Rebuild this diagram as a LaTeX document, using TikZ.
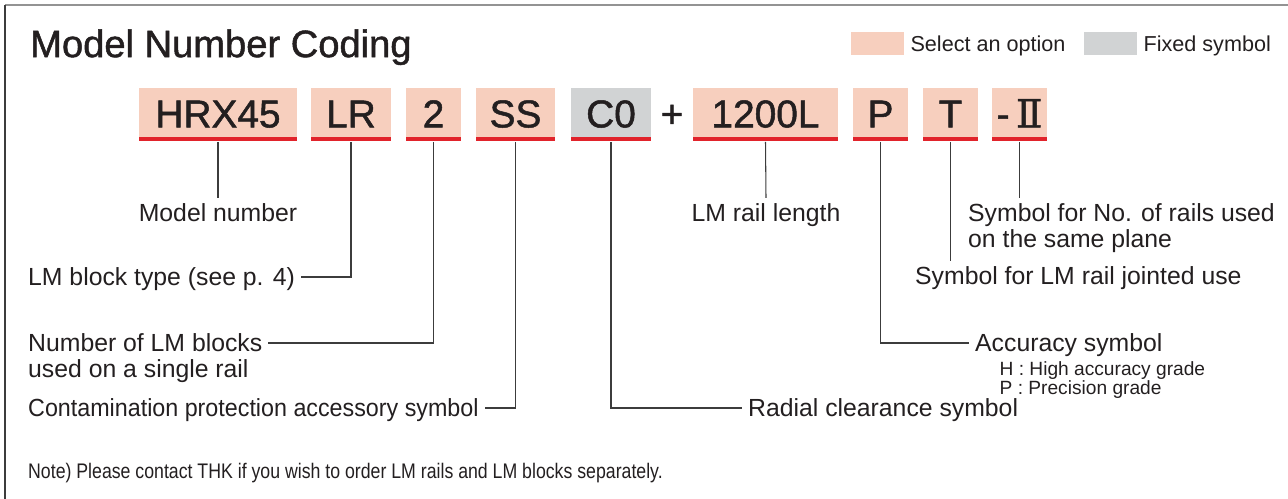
\documentclass[tikz,border=0pt]{standalone}
\usepackage{fontspec}
\setmainfont{Liberation Sans}
\newfontfamily\codefont[FakeBold=1.3]{Liberation Sans}
\newfontfamily\numfont[FakeBold=1.3]{DejaVu Serif}
\newfontfamily\notefont[FakeStretch=0.84]{Liberation Sans}
\newfontfamily\tightfont[FakeStretch=0.94]{Liberation Sans}
\usetikzlibrary{positioning}
\definecolor{thkpink}{HTML}{F7CFBE}
\definecolor{thkgrey}{HTML}{D1D3D4}
\definecolor{thkred}{HTML}{E1232B}
\definecolor{thkink}{HTML}{231F20}
\definecolor{thkline}{HTML}{3C3C3C}

\begin{document}
\begin{tikzpicture}[
  x=0.02cm, y=-0.02cm,
  text=thkink,
  code/.style={fill=thkpink,minimum height=1.07cm,inner sep=0pt,
    text height=15.8pt,text depth=1.4pt,
    font=\codefont\fontsize{22.1pt}{26pt}\selectfont,
    path picture={\fill[thkred] (path picture bounding box.south west)
      rectangle ([yshift=0.084cm]path picture bounding box.south east);}},
  fixed/.style={code,fill=thkgrey},
  lbl/.style={font=\fontsize{14.1pt}{17pt}\selectfont,
    text height=10.1pt,text depth=0pt},
  small/.style={font=\fontsize{10.9pt}{13pt}\selectfont,
    text height=7.8pt,text depth=0pt,anchor=west},
  lead/.style={draw=thkline,line width=0.6pt},
  key/.style={minimum width=1.06cm,minimum height=0.46cm,inner sep=0pt},
  keytext/.style={font=\fontsize{12.3pt}{14pt}\selectfont,
    text height=8.8pt,text depth=0pt}
]
  \useasboundingbox (0,0) rectangle (1288,499);
  % frame
  \draw[draw=gray!85,line width=1.2pt] (5,5) -- (1288,5);
  \draw[draw=thkline,line width=0.9pt] (5,5) -- (5,499);

  % title and legend
  \node[anchor=west,font=\codefont\fontsize{21.7pt}{26pt}\selectfont,
    text height=15.5pt,text depth=0pt] (title) at (24,43.5)
    {Model Number Coding};
  \node[key,fill=thkpink] (optkey) at (877.5,43.5) {};
  \node[keytext,right=0pt of optkey] (opttext) {Select an option};
  \node[key,fill=thkgrey] (fixkey) at (1110.5,43.5) {};
  \node[keytext,right=0pt of fixkey] (fixtext) {Fixed symbol};

  % model number boxes
  \node[code,minimum width=3.16cm] (hrx) at (218,114.75) {HRX45};
  \node[code,minimum width=1.60cm] (lr) at (351,114.75) {LR};
  \node[code,minimum width=1.10cm] (nblk) at (433.5,114.75) {2};
  \node[code,minimum width=1.58cm] (seal) at (515.5,114.75) {SS};
  \node[fixed,minimum width=1.60cm] (clr) at (611,114.75) {C0};
  \node[font=\codefont\fontsize{22.1pt}{26pt}\selectfont,inner sep=0pt,
    text height=15.8pt,text depth=1.4pt] (plus) at (672,114.75) {+};
  \node[code,minimum width=2.90cm] (len) at (765.5,114.75) {1200L};
  \node[code,minimum width=1.10cm] (acc) at (880.5,114.75) {P};
  \node[code,minimum width=1.10cm] (joint) at (950.5,114.75) {T};
  \node[code,minimum width=1.10cm] (rails) at (1019.5,114.75)
    {-\,{\numfont Ⅱ}};

  % labels
  \node[lbl] (modelno) at (218,213) {Model number};
  \node[lbl] (lenlbl) at (766,213) {LM rail length};
  \node[lbl,anchor=west] (railsA) at (962,213) {Symbol for No. of rails used};
  \node[lbl,anchor=west] (railsB) at (962,239) {on the same plane};
  \node[lbl,anchor=west] (blktype) at (22,277) {LM block type (see p. 4)};
  \node[lbl,anchor=west] (jointlbl) at (909,276)
    {Symbol for LM rail jointed use};
  \node[lbl,anchor=west] (nblkA) at (22,343) {Number of LM blocks};
  \node[lbl,anchor=west] (nblkB) at (22,369) {used on a single rail};
  \node[lbl,anchor=west] (accsym) at (969,343) {Accuracy symbol};
  \node[small] (accH) at (993.5,369) {H : High accuracy grade};
  \node[small] (accP) at (993.5,388) {P : Precision grade};
  \node[lbl,anchor=west,font=\tightfont\fontsize{14.1pt}{17pt}\selectfont]
    (sealsym) at (22,408) {Contamination protection accessory symbol};
  \node[lbl,anchor=west] (clrsym) at (742,408) {Radial clearance symbol};
  \node[anchor=west,font=\notefont\fontsize{12pt}{14pt}\selectfont]
    (note) at (22,473)
    {Note) Please contact THK if you wish to order LM rails and LM blocks separately.};

  % leader lines
  \draw[lead] (hrx.south) -- (modelno.north);
  \draw[lead] (lr.south) |- (blktype.east);
  \draw[lead] (nblk.south) |- (nblkA.east);
  \draw[lead] (seal.south) |- (sealsym.east);
  \draw[lead] (clr.south) |- (clrsym.west);
  \draw[lead] (len.south) -- (lenlbl.north);
  \draw[lead] (acc.south) |- (accsym.west);
  \draw[lead] (joint.south) -- (joint.south |- jointlbl.north);
  \draw[lead] (rails.south) -- (rails.south |- railsA.north);
\end{tikzpicture}
\end{document}
